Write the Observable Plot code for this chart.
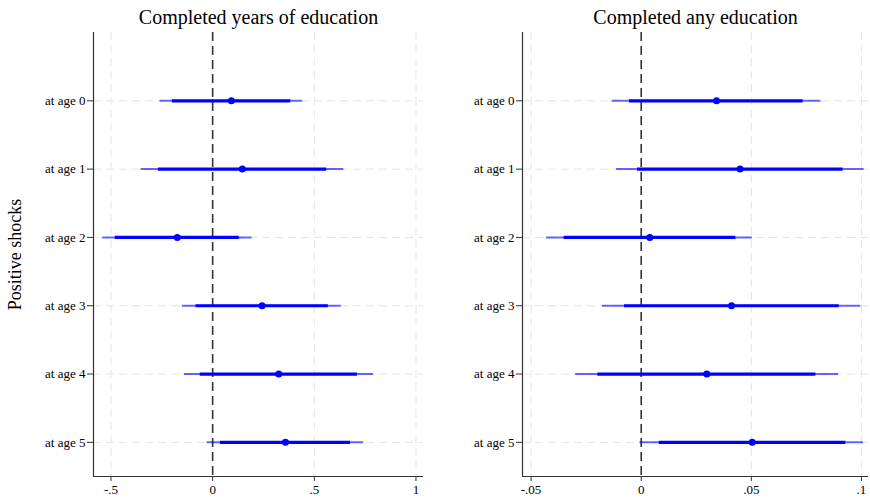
<!DOCTYPE html>
<html>
<head>
<meta charset="utf-8">
<script src="https://cdn.jsdelivr.net/npm/d3@7"></script>
<script src="https://cdn.jsdelivr.net/npm/@observablehq/plot@0.6"></script>
<style>
  html, body { margin: 0; padding: 0; background: #fff; }
  #wrap { position: relative; width: 870px; height: 498px; display: flex; }
  #wrap svg, #wrap svg text { font-family: "Liberation Serif", "Times New Roman", serif !important; }
</style>
</head>
<body>
<div id="wrap"></div>
<script>
// Categories
const ages = ["at age 0", "at age 1", "at age 2", "at age 3", "at age 4", "at age 5"];
const rowLabel = "Positive shocks";

// Panel 1: Completed years of education
const title1 = "Completed years of education";
const est1   = [0.092, 0.146, -0.174, 0.243, 0.325, 0.358];
const lo90_1 = [-0.198, -0.267, -0.479, -0.082, -0.061, 0.038];
const hi90_1 = [0.384, 0.561, 0.131, 0.569, 0.712, 0.678];
const lo95_1 = [-0.259, -0.352, -0.541, -0.149, -0.139, -0.028];
const hi95_1 = [0.443, 0.645, 0.194, 0.633, 0.791, 0.743];
const xTicks1 = [-0.5, 0, 0.5, 1];

// Panel 2: Completed any education
const title2 = "Completed any education";
const est2   = [0.0342, 0.0449, 0.0039, 0.0410, 0.0298, 0.0504];
const lo90_2 = [-0.0053, -0.0017, -0.0350, -0.0076, -0.0197, 0.0082];
const hi90_2 = [0.0735, 0.0917, 0.0430, 0.0899, 0.0793, 0.0929];
const lo95_2 = [-0.0132, -0.0112, -0.0430, -0.0176, -0.0298, -0.0005];
const hi95_2 = [0.0816, 0.1012, 0.0505, 0.0997, 0.0896, 0.1009];
const xTicks2 = [-0.05, 0, 0.05, 0.1];

const fmt = d => d === 0 ? "0" : String(d).replace("0.", ".");
const FONT = "Liberation Serif";

function panel({title, est, lo90, hi90, lo95, hi95, xTicks, xDomain, width, marginLeft, marginRight, ylabel}) {
  const rows = ages.map((a, i) => ({i, est: est[i], lo90: lo90[i], hi90: hi90[i], lo95: lo95[i], hi95: hi95[i]}));
  const idx = ages.map((a, i) => i);
  const marks = [
    Plot.ruleY(idx, {y: d => d, stroke: "#e4e4e4", strokeDasharray: "8,5", strokeWidth: 1}),
    Plot.ruleX(xTicks.filter(t => t !== 0), {x: d => d, stroke: "#e4e4e4", strokeDasharray: "8,5", strokeWidth: 1}),
    Plot.ruleX([0], {stroke: "#333", strokeDasharray: "9,5", strokeWidth: 1.6}),
    Plot.ruleX([xDomain[0]], {stroke: "#333", strokeWidth: 1.2}),
    Plot.ruleY([5.5], {stroke: "#333", strokeWidth: 1.2}),
    Plot.ruleY(rows, {y: "i", x1: "lo95", x2: "hi95", stroke: "#0000ff", strokeOpacity: 0.6, strokeWidth: 2}),
    Plot.ruleY(rows, {y: "i", x1: "lo90", x2: "hi90", stroke: "#0000ff", strokeWidth: 3.2}),
    Plot.dot(rows, {x: "est", y: "i", r: 3.5, fill: "#0000ff", stroke: "none"}),
    Plot.axisX({ticks: xTicks, tickFormat: fmt, tickSize: 5, tickPadding: 3, fontSize: 13, fontFamily: FONT, label: null, stroke: "#333", fill: "#000"}),
    Plot.axisY({ticks: idx, tickFormat: i => ages[i], tickSize: 6, tickPadding: 2, fontSize: 13, fontFamily: FONT, label: null, stroke: "#333", fill: "#000"}),
    Plot.text([title], {frameAnchor: "top", lineAnchor: "middle", textAnchor: "middle", dy: -15, fontSize: 20, fontFamily: FONT, fill: "#000"})
  ];
  if (ylabel) {
    marks.push(Plot.text([ylabel], {frameAnchor: "left", textAnchor: "middle", lineAnchor: "middle", dx: -78, rotate: -90, fontSize: 18, fontFamily: FONT, fill: "#000"}));
  }
  return Plot.plot({
    width, height: 498,
    marginTop: 32, marginBottom: 22, marginLeft, marginRight,
    style: {fontFamily: FONT, fontSize: "13px", background: "#fff", overflow: "visible"},
    x: {domain: xDomain},
    y: {domain: [5.5, -1]},
    marks
  });
}

const wrap = document.getElementById("wrap");
wrap.appendChild(panel({title: title1, est: est1, lo90: lo90_1, hi90: hi90_1, lo95: lo95_1, hi95: hi95_1,
  xTicks: xTicks1, xDomain: [-0.586, 1.037], width: 435, marginLeft: 93, marginRight: 12, ylabel: rowLabel}));
wrap.appendChild(panel({title: title2, est: est2, lo90: lo90_2, hi90: hi90_2, lo95: lo95_2, hi95: hi95_2,
  xTicks: xTicks2, xDomain: [-0.0539, 0.1032], width: 435, marginLeft: 87, marginRight: 2}));
</script>
</body>
</html>
